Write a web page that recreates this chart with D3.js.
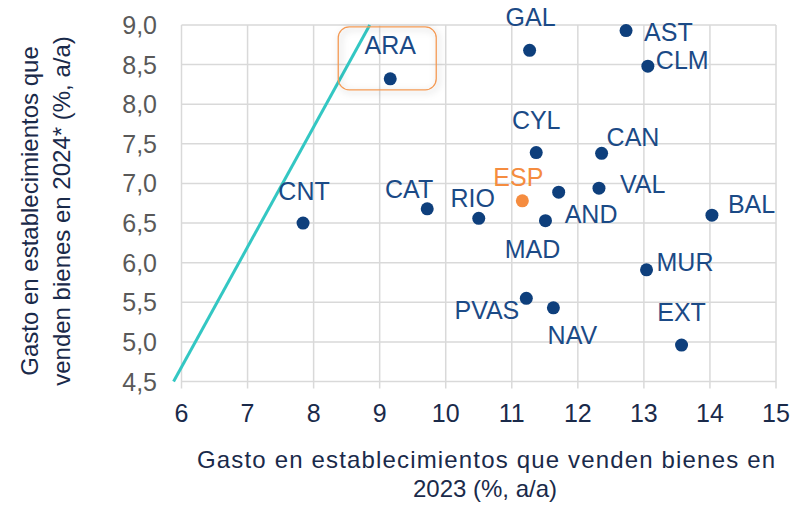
<!DOCTYPE html>
<html>
<head>
<meta charset="utf-8">
<script src="https://cdn.jsdelivr.net/npm/d3@7"></script>
<style>
  body { margin: 0; background: #fff; }
  svg { display: block; font-family: "Liberation Sans", Arial, sans-serif; }
</style>
</head>
<body>
<script>
// Comunidades autónomas y gasto (%, a/a)
const regions   = ["ARA", "GAL", "AST", "CLM", "CYL", "CAN", "ESP", "AND", "VAL", "MAD", "RIO", "CAT", "BAL", "CNT", "MUR", "PVAS", "NAV", "EXT"];
const gasto2023 = [9.16, 11.27, 12.73, 13.06, 11.37, 12.36, 11.16, 11.71, 12.32, 11.51, 10.50, 9.72, 14.03, 7.84, 13.04, 11.22, 11.63, 13.57];
const gasto2024 = [8.32, 8.68, 8.93, 8.48, 7.39, 7.38, 6.78, 6.89, 6.94, 6.53, 6.56, 6.68, 6.60, 6.50, 5.91, 5.55, 5.43, 4.96];
const xTicks = [6, 7, 8, 9, 10, 11, 12, 13, 14, 15];
const yTicks = [4.5, 5.0, 5.5, 6.0, 6.5, 7.0, 7.5, 8.0, 8.5, 9.0];
// reference line
const refX = [5.88, 8.85];
const refY = [4.5, 9.0];

// label placement (anchor, dx, dy) per region
const labelPos = {
  ARA: ["middle", 0, -25], GAL: ["middle", 1, -24], AST: ["start", 18, 10],
  CLM: ["start", 8, 3], CYL: ["middle", 0, -24], CAN: ["start", 5, -7],
  ESP: ["middle", -4, -15], AND: ["start", 6, 31], VAL: ["start", 21, 5],
  MAD: ["middle", -13, 37], RIO: ["middle", -6, -11], CAT: ["end", 6, -11],
  BAL: ["start", 16, -2], CNT: ["middle", 1, -23], MUR: ["start", 10, 1],
  PVAS: ["end", -7, 21], NAV: ["middle", 19, 36], EXT: ["middle", 0, -24]
};

const W = 806, H = 505;
const navy = "#0e3f7c", labelCol = "#1b4a86", orange = "#f58c3f", titleCol = "#1a2a4a";

const svg = d3.select("body").append("svg").attr("width", W).attr("height", H);

const x = d3.scaleLinear().domain([6, 15]).range([181.5, 776]);
const y = d3.scaleLinear().domain([4.5, 9]).range([381.5, 25]);

const defs = svg.append("defs");
defs.append("filter").attr("id", "shadow")
  .attr("x", "-20%").attr("y", "-30%").attr("width", "140%").attr("height", "160%")
  .append("feDropShadow")
  .attr("dx", 2).attr("dy", 2).attr("stdDeviation", 3.5)
  .attr("flood-color", "#000").attr("flood-opacity", 0.28);

// grid
const grid = svg.append("g");
grid.selectAll("line.v").data(xTicks).enter().append("line")
  .attr("x1", d => x(d)).attr("x2", d => x(d))
  .attr("y1", y(9)).attr("y2", y(4.5) + 7)
  .attr("stroke", "#d9d9d9").attr("stroke-width", 1.5);
grid.selectAll("line.h").data(yTicks).enter().append("line")
  .attr("x1", x(6)).attr("x2", x(15))
  .attr("y1", d => y(d)).attr("y2", d => y(d))
  .attr("stroke", "#d9d9d9").attr("stroke-width", 1.5);

// tick labels
const fmt = d3.format(".1f");
svg.append("g").selectAll("text").data(yTicks).enter().append("text")
  .attr("x", 157).attr("y", d => y(d)).attr("dy", "0.36em")
  .attr("text-anchor", "end").attr("font-size", 25).attr("fill", "#595959")
  .text(d => fmt(d).replace(".", ","));
svg.append("g").selectAll("text").data(xTicks).enter().append("text")
  .attr("x", d => x(d)).attr("y", 422)
  .attr("text-anchor", "middle").attr("font-size", 25).attr("fill", titleCol)
  .text(d => d);

// reference line
svg.append("line")
  .attr("x1", x(refX[0])).attr("y1", y(refY[0]))
  .attr("x2", x(refX[1])).attr("y2", y(refY[1]))
  .attr("stroke", "#33c7c3").attr("stroke-width", 3);

// callout around ARA
const ai = regions.indexOf("ARA");
const ax = x(gasto2023[ai]), ay = y(gasto2024[ai]);
svg.append("rect")
  .attr("x", ax - 52).attr("y", ay - 52).attr("width", 98).attr("height", 63)
  .attr("rx", 11).attr("fill", "none")
  .attr("stroke", "#f39a55").attr("stroke-width", 1.3)
  .attr("filter", "url(#shadow)");

// points
const pts = regions.map((r, i) => ({ r, x: gasto2023[i], y: gasto2024[i] }));
svg.append("g").selectAll("circle").data(pts).enter().append("circle")
  .attr("cx", d => x(d.x)).attr("cy", d => y(d.y)).attr("r", 6.5)
  .attr("fill", d => d.r === "ESP" ? orange : navy);

svg.append("g").selectAll("text").data(pts).enter().append("text")
  .attr("x", d => x(d.x) + labelPos[d.r][1])
  .attr("y", d => y(d.y) + labelPos[d.r][2])
  .attr("text-anchor", d => labelPos[d.r][0])
  .attr("font-size", 25)
  .attr("fill", d => d.r === "ESP" ? orange : labelCol)
  .text(d => d.r);

// axis titles
const xt = svg.append("text").attr("text-anchor", "middle").attr("font-size", 24).attr("fill", titleCol);
xt.append("tspan").attr("x", 486).attr("y", 468)
  .attr("textLength", 578).attr("lengthAdjust", "spacing")
  .text("Gasto en establecimientos que venden bienes en");
xt.append("tspan").attr("x", 485).attr("y", 497).text("2023 (%, a/a)");

const yt = svg.append("text").attr("text-anchor", "middle").attr("font-size", 24).attr("fill", titleCol)
  .attr("transform", "translate(0,211) rotate(-90)");
yt.append("tspan").attr("x", 0).attr("y", 38).text("Gasto en establecimientos que");
yt.append("tspan").attr("x", 0).attr("y", 70).text("venden bienes en 2024* (%, a/a)");
</script>
</body>
</html>
